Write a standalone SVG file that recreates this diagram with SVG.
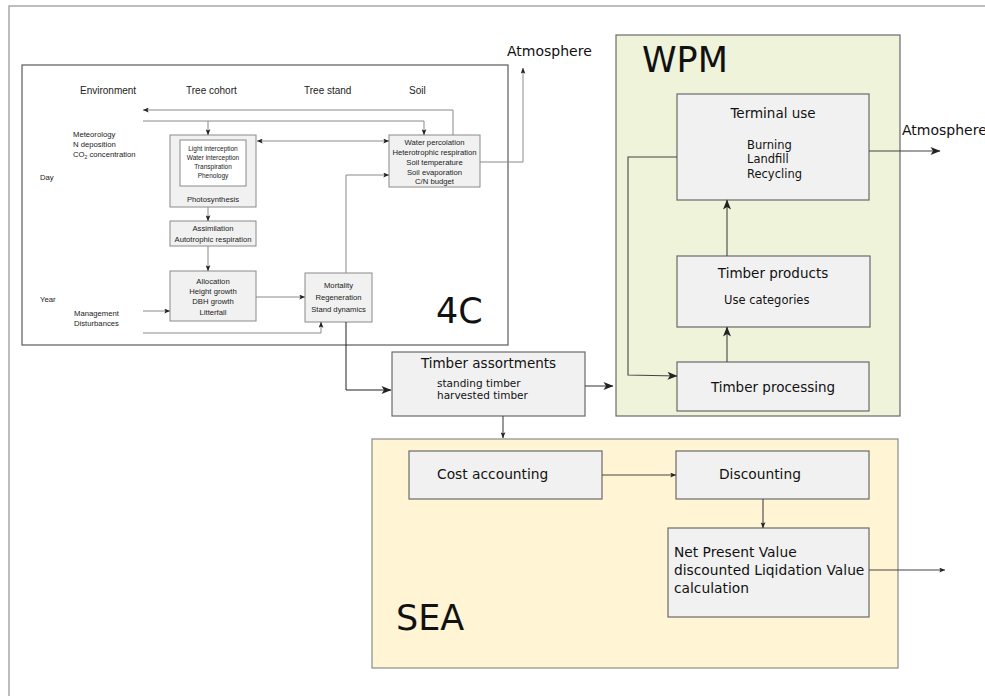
<svg xmlns="http://www.w3.org/2000/svg" width="985" height="696" viewBox="0 0 985 696">
<defs>
<marker id="a" viewBox="0 0 10 8" refX="9.5" refY="4" markerWidth="11" markerHeight="8" markerUnits="userSpaceOnUse" orient="auto-start-reverse"><path d="M0,0 L10,4 L0,8 L2.5,4 z" fill="#222"/></marker>
<marker id="s" viewBox="0 0 10 8" refX="9.5" refY="4" markerWidth="6" markerHeight="5" markerUnits="userSpaceOnUse" orient="auto-start-reverse"><path d="M0,0 L10,4 L0,8 L2,4 z" fill="#222"/></marker>
</defs>
<style>
.frame{fill:none;stroke:#a8a8a8;stroke-width:1.5}
.mod4c{fill:#fff;stroke:#5a5a5a;stroke-width:1.2}
.wpm{fill:#eef3da;stroke:#6a6a6a;stroke-width:1.2}
.sea{fill:#fff4d4;stroke:#8a8a8a;stroke-width:1.2}
.b{fill:#f1f1f1;stroke:#6a6a6a;stroke-width:1.2}
.sb{fill:#f1f1f1;stroke:#8a8a8a;stroke-width:1}
.ib{fill:#fff;stroke:#8a8a8a;stroke-width:1}
.c{fill:none;stroke:#444;stroke-width:1.1}
.cs{fill:none;stroke:#8a8a8a;stroke-width:1}
.cd{fill:none;stroke:#222;stroke-width:1}
.ar{font-family:"Liberation Sans",Arial,sans-serif;fill:#222}
.dj{font-family:"DejaVu Sans",Verdana,sans-serif;fill:#111}
.h{font-size:10px}
.t{font-size:7.7px}
.tt{font-size:6.5px}
.big{font-size:35px}
.ti{font-size:13.5px}
.su{font-size:11.5px}
.se{font-size:13.8px}
.mid{text-anchor:middle}
</style>
<path class="frame" d="M9,696 V6 H985"/>

<g id="module-4c">
<rect class="mod4c" x="22" y="65" width="486" height="280"/>
<text class="dj big" x="436" y="323">4C</text>
<text class="ar h" x="80" y="94">Environment</text>
<text class="ar h" x="186" y="94">Tree cohort</text>
<text class="ar h" x="304" y="94">Tree stand</text>
<text class="ar h" x="409" y="94">Soil</text>
<text class="ar t" x="40" y="180">Day</text>
<text class="ar t" x="40" y="302">Year</text>
</g>
<g id="environment-inputs">
<text class="ar t" x="73" y="137">Meteorology</text>
<text class="ar t" x="73" y="147">N deposition</text>
<text class="ar t" x="73" y="157">CO<tspan font-size="5px" dy="2">2</tspan><tspan dy="-2"> concentration</tspan></text>
</g>
<g id="management-inputs">
<text class="ar t" x="74" y="316">Management</text>
<text class="ar t" x="74" y="326">Disturbances</text>
</g>
<g id="photosynthesis">
<rect class="sb" x="170" y="135" width="86" height="72"/>
<rect class="ib" x="180" y="140" width="66" height="46"/>
<text class="ar tt mid" x="213" y="151">Light interception</text>
<text class="ar tt mid" x="213" y="160">Water interception</text>
<text class="ar tt mid" x="213" y="169">Transpiration</text>
<text class="ar tt mid" x="213" y="178">Phenology</text>
<text class="ar t mid" x="213" y="202">Photosynthesis</text>
</g>
<g id="soil">
<rect class="sb" x="389" y="135" width="91" height="52"/>
<text class="ar t mid" x="434.5" y="145">Water percolation</text>
<text class="ar t mid" x="434.5" y="155">Heterotrophic respiration</text>
<text class="ar t mid" x="434.5" y="165">Soil temperature</text>
<text class="ar t mid" x="434.5" y="175">Soil evaporation</text>
<text class="ar t mid" x="434.5" y="184">C/N budget</text>
</g>
<g id="assimilation">
<rect class="sb" x="170" y="221" width="86" height="25"/>
<text class="ar t mid" x="213" y="231">Assimilation</text>
<text class="ar t mid" x="213" y="242">Autotrophic respiration</text>
</g>
<g id="allocation">
<rect class="sb" x="170" y="271" width="86" height="50"/>
<text class="ar t mid" x="213" y="284">Allocation</text>
<text class="ar t mid" x="213" y="294">Height growth</text>
<text class="ar t mid" x="213" y="304">DBH growth</text>
<text class="ar t mid" x="213" y="315">Litterfall</text>
</g>
<g id="mortality">
<rect class="sb" x="305" y="273" width="67" height="49"/>
<text class="ar t mid" x="338.5" y="288">Mortality</text>
<text class="ar t mid" x="338.5" y="300">Regeneration</text>
<text class="ar t mid" x="338.5" y="312">Stand dynamics</text>
</g>
<g id="atmosphere-top"><text class="dj" font-size="14" x="507" y="56">Atmosphere</text></g>
<g id="timber-assortments">
<rect class="b" x="392" y="352" width="193" height="64"/>
<text class="dj ti mid" x="488.5" y="368">Timber assortments</text>
<text class="dj" font-size="10.5" x="437" y="387">standing timber</text>
<text class="dj" font-size="10.5" x="437" y="399">harvested timber</text>
</g>
<g id="wpm">
<rect class="wpm" x="616" y="35" width="284" height="381"/>
<text class="dj big" x="642" y="72">WPM</text>
</g>
<g id="terminal-use">
<rect class="b" x="677" y="94" width="192" height="106"/>
<text class="dj ti mid" x="773" y="118">Terminal use</text>
<text class="dj su" x="747" y="149">Burning</text>
<text class="dj su" x="747" y="163">Landfill</text>
<text class="dj su" x="747" y="178">Recycling</text>
</g>
<g id="atmosphere-right"><text class="dj" font-size="14" x="902" y="135">Atmosphere</text></g>
<g id="timber-products">
<rect class="b" x="677" y="256" width="193" height="71"/>
<text class="dj ti mid" x="773" y="278">Timber products</text>
<text class="dj su" x="724" y="304">Use categories</text>
</g>
<g id="timber-processing">
<rect class="b" x="677" y="362" width="192" height="49"/>
<text class="dj ti mid" x="773" y="392">Timber processing</text>
</g>
<g id="sea">
<rect class="sea" x="372" y="439" width="526" height="229"/>
<text class="dj big" x="396" y="630">SEA</text>
</g>
<g id="cost-accounting">
<rect class="b" x="409" y="451" width="193" height="48"/>
<text class="dj se" x="437" y="479">Cost accounting</text>
</g>
<g id="discounting">
<rect class="b" x="676" y="451" width="193" height="48"/>
<text class="dj se" x="719" y="479">Discounting</text>
</g>
<g id="npv">
<rect class="b" x="668" y="528" width="201" height="89"/>
<text class="dj se" x="674" y="557">Net Present Value</text>
<text class="dj se" x="674" y="575">discounted Liqidation Value</text>
<text class="dj se" x="674" y="593">calculation</text>
</g>

<g id="connectors">
<path class="cs" d="M453,135 V110 H143" marker-end="url(#s)"/>
<path class="cs" d="M143,121 H424 V135" marker-end="url(#s)"/>
<path class="cs" d="M208,121 V135" marker-end="url(#s)"/>
<path class="cs" d="M257,141 H389" marker-start="url(#s)" marker-end="url(#s)"/>
<path class="cs" d="M480,162 H523 V68" marker-end="url(#s)"/>
<path class="cs" d="M208,207 V221" marker-end="url(#s)"/>
<path class="cs" d="M208,246 V271" marker-end="url(#s)"/>
<path class="cs" d="M143,311 H170" marker-end="url(#s)"/>
<path class="cs" d="M256,297 H305" marker-end="url(#s)"/>
<path class="cs" d="M143,333 H321 V322" marker-end="url(#s)"/>
<path class="cs" d="M346,273 V175 H389" marker-end="url(#s)"/>
<path class="cd" d="M346,322 V390 H391" marker-end="url(#a)"/>
<path class="c" d="M585,386 H613" marker-end="url(#a)"/>
<path class="c" d="M503,416 V438" marker-end="url(#s)"/>
<path class="c" d="M869,151 H940" marker-end="url(#a)"/>
<path class="c" d="M727,256 V200" marker-end="url(#a)"/>
<path class="c" d="M727,362 V327" marker-end="url(#a)"/>
<path class="c" d="M677,157 H628 V375 L677,376" marker-end="url(#a)"/>
<path class="c" d="M602,475 H676" marker-end="url(#s)"/>
<path class="c" d="M763,499 V528" marker-end="url(#s)"/>
<path class="c" d="M869,570 H945" marker-end="url(#s)"/>
</g>
</svg>
